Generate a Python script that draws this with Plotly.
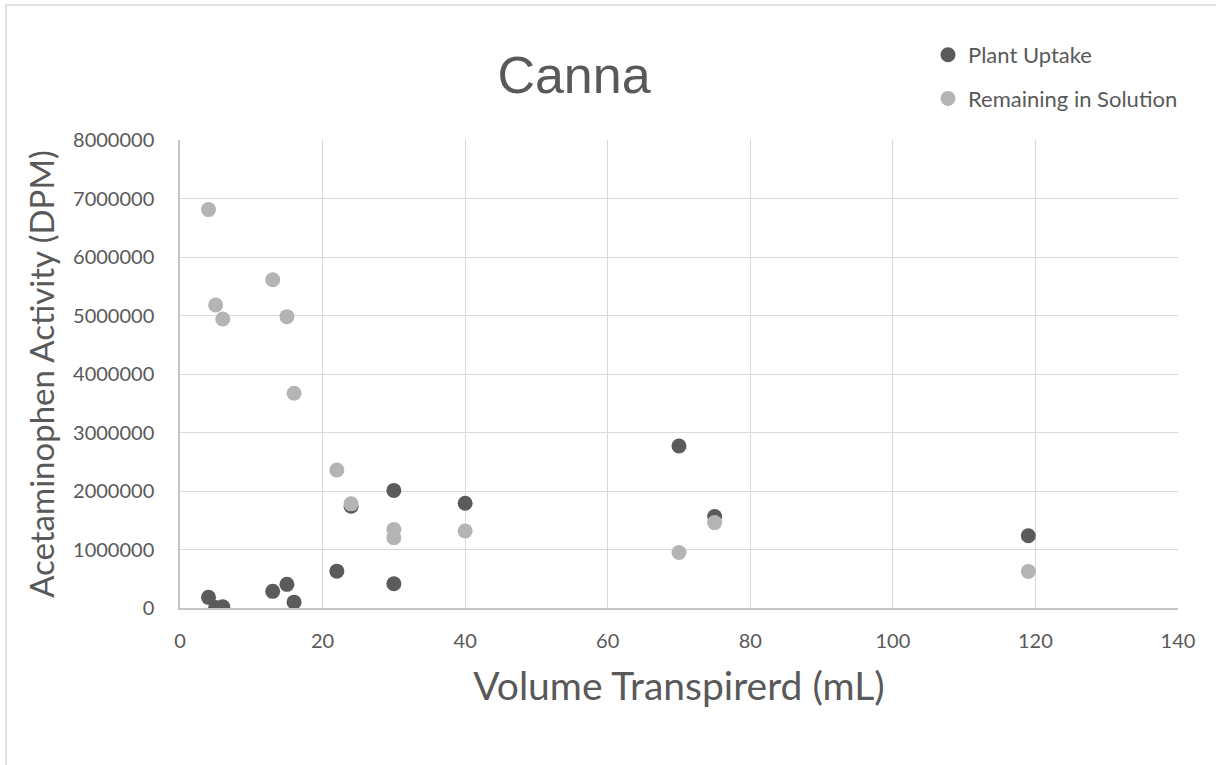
import plotly.graph_objects as go

volume_ml = [4, 5, 6, 13, 15, 16, 22, 24, 30, 30, 40, 70, 75, 119]
plant_uptake = [182000, 10000, 20000, 285000, 404000, 100000, 630000, 1740000,
                2010000, 415000, 1790000, 2770000, 1565000, 1235000]
remaining_in_solution = [6810000, 5180000, 4940000, 5610000, 4980000, 3670000, 2360000,
                         1780000, 1340000, 1200000, 1315000, 950000, 1460000, 626000]

x_ticks = [0, 20, 40, 60, 80, 100, 120, 140]
y_ticks = [0, 1000000, 2000000, 3000000, 4000000, 5000000, 6000000, 7000000, 8000000]

TXT = "#595959"
FONT = "Lato"

fig = go.Figure()
fig.add_trace(go.Scatter(
    x=volume_ml, y=plant_uptake, mode="markers", name="Plant Uptake",
    legendgroup="a",
    marker=dict(size=15, color="#5b5b5b", line=dict(width=0)),
))
fig.add_trace(go.Scatter(
    x=volume_ml, y=remaining_in_solution, mode="markers", name="Remaining in Solution",
    legendgroup="b",
    marker=dict(size=15, color="#b4b4b4", line=dict(width=0)),
))

L, R, T, B = 180, 38, 140, 157
W, H = 1216, 765
pw, ph = W - L - R, H - T - B

def px_x(p):
    return (p - L) / pw

def px_y(p):
    return (H - B - p) / ph

fig.update_layout(
    width=W, height=H,
    margin=dict(l=L, r=R, t=T, b=B, pad=0),
    paper_bgcolor="white", plot_bgcolor="white",
    font=dict(family=FONT, color=TXT),
    title=dict(text="Canna", x=574 / W, y=1 - 75 / H, xref="container", yref="container",
               xanchor="center", yanchor="middle",
               font=dict(family="Liberation Sans", size=52, color=TXT)),
    showlegend=True,
    legend=dict(x=px_x(928), y=px_y(34), xanchor="left", yanchor="top",
                font=dict(family=FONT, size=22, color=TXT),
                tracegroupgap=12, bgcolor="rgba(0,0,0,0)", itemwidth=30),
    xaxis=dict(range=[0, 140], tickvals=x_ticks, showgrid=True, gridcolor="#d9d9d9",
               gridwidth=1, showline=True, linecolor="#c4c4c4", linewidth=1.5,
               zeroline=False, ticks="", ticklabelstandoff=14, mirror=False,
               tickfont=dict(family=FONT, size=20, color=TXT),
               title=dict(text="Volume Transpirerd (mL)", standoff=22,
                          font=dict(family=FONT, size=39, color=TXT))),
    yaxis=dict(range=[0, 8000000], tickvals=y_ticks, tickformat="d",
               showgrid=True, gridcolor="#d9d9d9", gridwidth=1,
               showline=True, linecolor="#c4c4c4", linewidth=1.5,
               zeroline=False, ticks="", ticklabelstandoff=20,
               tickfont=dict(family=FONT, size=20, color=TXT),
               title=dict(text="Acetaminophen Activity (DPM)", standoff=8,
                          font=dict(family=FONT, size=33, color=TXT))),
    shapes=[dict(type="rect", xref="paper", yref="paper",
                 x0=px_x(6), x1=px_x(1230), y0=px_y(780), y1=px_y(5),
                 line=dict(color="#d9d9d9", width=1.5), fillcolor="rgba(0,0,0,0)",
                 layer="below")],
)

fig.write_html("out.html")
